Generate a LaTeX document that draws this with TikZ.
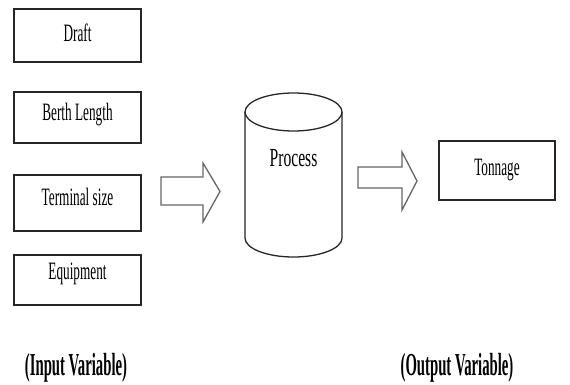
\documentclass[tikz,border=0pt]{standalone}
\usepackage{fontspec}
\setmainfont{Liberation Serif}[FakeStretch=0.53]
\newfontfamily\procfont{Liberation Serif}[FakeStretch=0.6]
\newfontfamily\labfont{Liberation Serif}[FakeStretch=0.46]
\begin{document}
\begin{tikzpicture}[x=1pt,y=-1pt,
  box/.style={draw=black!85, line width=1.4pt, rectangle, inner sep=0pt},
  txt/.style={font=\fontsize{25}{27}\selectfont, inner sep=0pt, text=black},
  blockarrow/.style={draw=black!60, line width=1.3pt, fill=white, line join=miter},
  cyl/.style={draw=black!85, line width=1.3pt},
  lab/.style={font=\labfont\bfseries\fontsize{32}{34}\selectfont, inner sep=0pt}]
\useasboundingbox (0,0) rectangle (570,385);
\fill[white] (0,0) rectangle (570,385);
% input boxes
\node[box, minimum width=127pt, minimum height=53pt] (draft) at (77.5,35.5) {};
\node[txt] (tdraft) at (77.5,33) {Draft};
\node[box, minimum width=127pt, minimum height=51pt] (berth) at (77.5,117.5) {};
\node[txt] (tberth) at (77.5,115) {Berth Length};
\node[box, minimum width=127pt, minimum height=56pt] (term) at (77.5,203) {};
\node[txt] (tterm) at (77.5,197) {Terminal size};
\node[box, minimum width=127pt, minimum height=50pt] (equip) at (77.5,280) {};
\node[txt] (tequip) at (77.5,274) {Equipment};
% arrow 1
\draw[blockarrow] (161,177) -- (203,177) -- (203,163) -- (220,191.5) -- (203,222) -- (203,205) -- (161,205) -- cycle;
% cylinder
\coordinate (ctop) at (293.5,112);
\draw[cyl, fill=white] (245,112) -- (245,238) arc[start angle=180, end angle=360, x radius=48.5, y radius=-19] -- (342,112);
\draw[cyl] (ctop) ellipse[x radius=48.5, y radius=19];
\node[font=\procfont\fontsize{26}{28}\selectfont, inner sep=0pt] (proc) at (293.5,158) {Process};
% arrow 2
\draw[blockarrow] (358,167) -- (402,167) -- (402,152) -- (417,181) -- (402,210) -- (402,188) -- (358,188) -- cycle;
% output box
\node[box, minimum width=116pt, minimum height=59pt] (ton) at (497,170.5) {};
\node[txt] (tton) at (497,170) {Tonnage};
% labels
\node[lab] (inlab) at (76,368) {(Input Variable)};
\node[lab] (outlab) at (457,368) {(Output Variable)};
\end{tikzpicture}
\end{document}
